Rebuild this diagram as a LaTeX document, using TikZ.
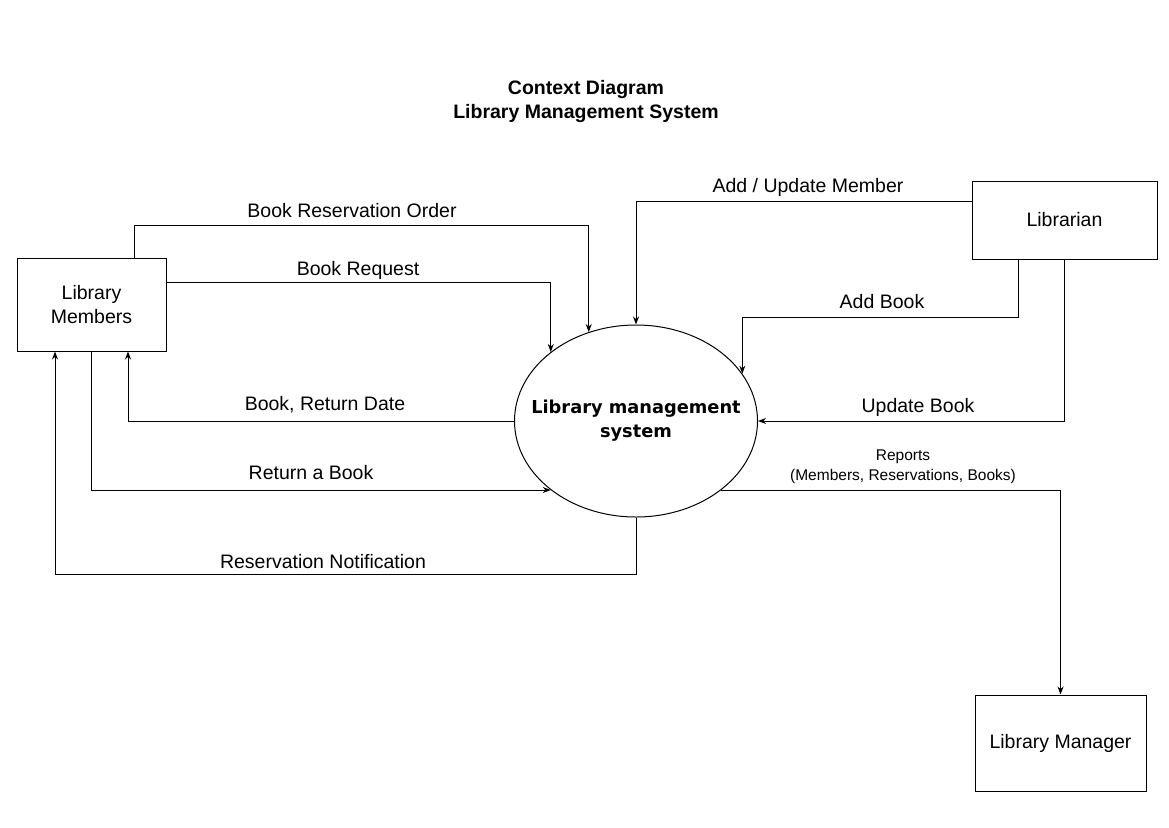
\documentclass[tikz,border=0pt]{standalone}
\usepackage{fontspec}
\setmainfont{Liberation Sans}
\newfontfamily\dejavu{DejaVu Sans}
\usetikzlibrary{arrows.meta,shapes.geometric}
\begin{document}
\begin{tikzpicture}[x=1pt,y=-1pt,line width=1pt,>={Stealth[length=8pt,width=6pt]},
    ent/.style={draw,rectangle,align=center,font=\fontsize{19.5}{23.5}\selectfont},
    lbl/.style={inner sep=0pt,font=\fontsize{19.5}{23.5}\selectfont},
    flow/.style={->}]
            \useasboundingbox (0,0) rectangle (1169,827);
            \node[align=center,font=\bfseries\fontsize{19.5}{24}\selectfont] (title) at (586,101) {Context Diagram\\Library Management System};
            \node[ent,minimum width=149pt,minimum height=93pt] (mem) at (91.5,304.5) {Library\\Members};
            \node[ent,minimum width=185pt,minimum height=78pt] (lib) at (1064.5,220) {Librarian};
            \node[ent,minimum width=171pt,minimum height=96pt] (mgr) at (1060.5,743) {Library Manager};
            \node[draw,ellipse,minimum width=243pt,minimum height=192pt,inner xsep=-40pt,inner ysep=0pt,align=center,
                font=\dejavu\bfseries\fontsize{17.8}{24}\selectfont] (sys) at (636,421) {Library management\\system};
            % member flows
            \draw[flow] ([xshift=42.5pt]mem.north) -- ++(0,-32) -| (sys.118.6);
            \draw[flow] ([yshift=22.5pt]mem.east) -| (sys.141.1);
            \draw[flow] (sys.west) -| ([xshift=36.5pt]mem.south);
            \draw[flow] (mem.south) |- (sys.219.2);
            \draw[flow] (sys.south) -- ++(0,57) -| ([xshift=-36.5pt]mem.south);
            % librarian flows
            \draw[flow] ([yshift=19pt]lib.west) -| (sys.north);
            \draw[flow] ([xshift=-46.5pt]lib.south) -- ++(0,58) -| (sys.24.7);
            \draw[flow] (lib.south) |- (sys.east);
            % reports
            \draw[flow] (sys.-39.2) -| (mgr.north);
            \node[lbl] (l1) at (352,211) {Book Reservation Order};
            \node[lbl] (l2) at (358,270) {Book Request};
            \node[lbl] (l3) at (325,405) {Book, Return Date};
            \node[lbl] (l4) at (311,473) {Return a Book};
            \node[lbl] (l5) at (323,562) {Reservation Notification};
            \node[lbl] (l6) at (808,187) {Add / Update Member};
            \node[lbl] (l7) at (882,302) {Add Book};
            \node[lbl] (l8) at (918,407) {Update Book};
            \node[lbl,align=center,font=\fontsize{15.5}{20}\selectfont] (l9) at (903,467) {Reports\\(Members, Reservations, Books)};
\end{tikzpicture}
\end{document}
